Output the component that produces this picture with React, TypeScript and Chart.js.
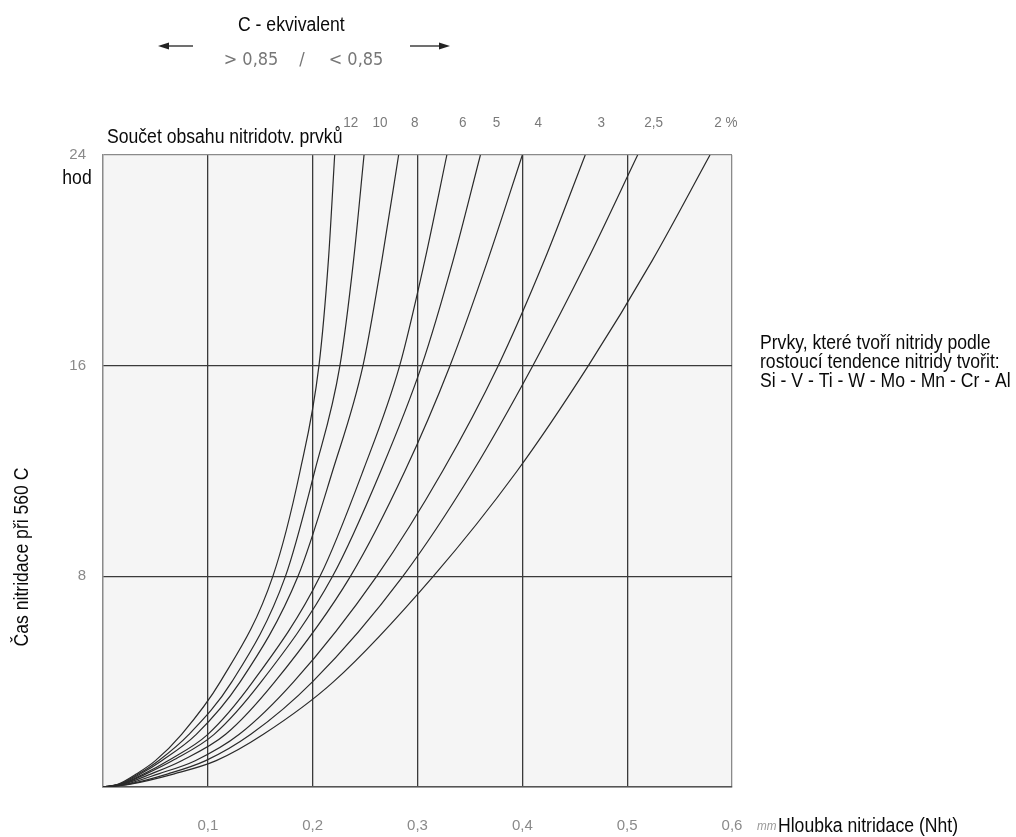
import React, { useEffect, useRef } from 'react';
import { Chart, registerables } from 'chart.js';
Chart.register(...registerables);

// Time of nitriding (hours) at which each depth was read
const hours = [0, 0.1, 0.5, 1, 2, 4, 8, 12, 16, 20, 24];

// Nitriding depth (mm) for each sum of nitride-forming elements
const depth12 = [0, 0.014, 0.032, 0.050, 0.075, 0.112, 0.162, 0.188, 0.206, 0.215, 0.221];
const depth10 = [0, 0.015, 0.034, 0.053, 0.082, 0.123, 0.174, 0.202, 0.226, 0.239, 0.249];
const depth8 = [0, 0.016, 0.036, 0.056, 0.089, 0.131, 0.186, 0.219, 0.248, 0.266, 0.282];
const depth6 = [0, 0.017, 0.039, 0.062, 0.100, 0.143, 0.207, 0.248, 0.283, 0.307, 0.328];
const depth5 = [0, 0.018, 0.041, 0.066, 0.106, 0.151, 0.219, 0.265, 0.304, 0.334, 0.360];
const depth4 = [0, 0.019, 0.046, 0.075, 0.117, 0.164, 0.236, 0.288, 0.331, 0.367, 0.400];
const depth3 = [0, 0.021, 0.053, 0.088, 0.130, 0.182, 0.261, 0.324, 0.377, 0.421, 0.460];
const depth25 = [0, 0.023, 0.062, 0.098, 0.141, 0.200, 0.286, 0.353, 0.410, 0.462, 0.510];
const depth2 = [0, 0.025, 0.068, 0.108, 0.153, 0.220, 0.315, 0.395, 0.463, 0.524, 0.579];

const seriesLabels = ['12', '10', '8', '6', '5', '4', '3', '2,5', '2 %'];
const seriesDepths = [depth12, depth10, depth8, depth6, depth5, depth4, depth3, depth25, depth2];

const xTicks = [0, 0.1, 0.2, 0.3, 0.4, 0.5, 0.6];
const yTicks = [0, 8, 16, 24];

const SANS = '"Liberation Sans", Arial, sans-serif';

function txt(
  ctx: CanvasRenderingContext2D,
  s: string,
  x: number,
  y: number,
  o: { size?: number; color?: string; align?: CanvasTextAlign; sx?: number; rot?: number; style?: string; family?: string }
) {
  ctx.save();
  ctx.translate(x, y);
  if (o.rot) ctx.rotate(o.rot);
  ctx.scale(o.sx ?? 0.88, 1);
  ctx.font = `${o.style ?? ''} ${o.size ?? 20}px ${o.family ?? SANS}`;
  ctx.fillStyle = o.color ?? '#0a0a0a';
  ctx.textAlign = o.align ?? 'left';
  ctx.textBaseline = 'middle';
  ctx.fillText(s, 0, 0);
  ctx.restore();
}

function arrow(ctx: CanvasRenderingContext2D, x1: number, x2: number, y: number) {
  const dir = Math.sign(x2 - x1);
  ctx.save();
  ctx.strokeStyle = '#222';
  ctx.fillStyle = '#222';
  ctx.lineWidth = 1.3;
  ctx.beginPath();
  ctx.moveTo(x1, y);
  ctx.lineTo(x2 - dir * 8, y);
  ctx.stroke();
  ctx.beginPath();
  ctx.moveTo(x2, y);
  ctx.lineTo(x2 - dir * 11, y - 3.5);
  ctx.lineTo(x2 - dir * 11, y + 3.5);
  ctx.closePath();
  ctx.fill();
  ctx.restore();
}

const decorPlugin = {
  id: 'decor',
  beforeDraw(chart: any) {
    const { ctx, chartArea: a } = chart;
    ctx.save();
    ctx.fillStyle = '#ffffff';
    ctx.fillRect(0, 0, chart.width, chart.height);
    ctx.fillStyle = '#f5f5f5';
    ctx.fillRect(a.left, a.top, a.right - a.left, a.bottom - a.top);
    ctx.restore();
  },
  afterDraw(chart: any) {
    const { ctx, chartArea: a } = chart;
    // top header
    txt(ctx, 'C - ekvivalent', 238, 25, {});
    arrow(ctx, 193, 158, 46);
    arrow(ctx, 410, 450, 46);
    const g = { size: 17, color: '#777', align: 'center' as CanvasTextAlign, sx: 0.95, family: '"DejaVu Sans", sans-serif' };
    txt(ctx, '> 0,85', 251, 61, g);
    txt(ctx, '/', 302, 61, g);
    txt(ctx, '< 0,85', 356, 61, g);
    txt(ctx, 'Součet obsahu nitridotv. prvků', a.left + 4, 137, {});
    // curve labels
    chart.data.datasets.forEach((ds: any, i: number) => {
      const meta = chart.getDatasetMeta(i);
      const last = meta.data[meta.data.length - 1];
      txt(ctx, ds.label, last.x + 16, 123, { size: 15, color: '#7a7a7a', align: 'center', sx: 0.9 });
    });
    // y unit
    txt(ctx, 'hod', 77, 178, { align: 'center' });
    // y title
    txt(ctx, 'Čas nitridace při 560 C', 22, 557, { align: 'center', rot: -Math.PI / 2 });
    // x title
    txt(ctx, 'mm', 757, 826, { size: 13, color: '#999', style: 'italic', sx: 0.9 });
    txt(ctx, 'Hloubka nitridace (Nht)', 778, 826, {});
    // right note
    txt(ctx, 'Prvky, které tvoří nitridy podle', 760, 343, {});
    txt(ctx, 'rostoucí tendence nitridy tvořit:', 760, 362, {});
    txt(ctx, 'Si - V - Ti - W - Mo - Mn - Cr - Al', 760, 381, {});
  },
};

export default function App() {
  const ref = useRef<HTMLCanvasElement>(null);
  useEffect(() => {
    const datasets = seriesDepths.map((d, i) => ({
      label: seriesLabels[i],
      data: d.map((x, k) => ({ x, y: hours[k] })),
      borderColor: '#2a2a2a',
      borderWidth: 1.2,
      pointRadius: 0,
      fill: false,
      cubicInterpolationMode: 'monotone' as const,
    }));
    const chart = new Chart(ref.current!, {
      type: 'line',
      data: { datasets },
      plugins: [decorPlugin],
      options: {
        responsive: false,
        animation: false,
        devicePixelRatio: 1,
        events: [],
        layout: { padding: { left: 0, top: 155, right: 284, bottom: 0 } },
        plugins: { legend: { display: false }, tooltip: { enabled: false } },
        scales: {
          x: {
            type: 'linear',
            min: 0,
            max: 0.6,
            afterFit: (s: any) => {
              s.height = 50;
            },
            afterBuildTicks: (s: any) => {
              s.ticks = xTicks.map((v) => ({ value: v }));
            },
            ticks: {
              padding: 30,
              color: '#8a8a8a',
              font: { family: 'Liberation Sans', size: 15 },
              callback: (v: any) => (Number(v) < 1e-9 ? '' : Number(v).toFixed(1).replace('.', ',')),
              maxRotation: 0,
            },
            grid: {
              drawTicks: false,
              lineWidth: 1.3,
              color: (c: any) => (c.tick && (c.tick.value < 1e-9 || c.tick.value > 0.599) ? '#8a8a8a' : '#3a3a3a'),
            },
            border: { display: true, color: '#555', width: 1.6 },
          },
          y: {
            type: 'linear',
            min: 0,
            max: 24,
            afterFit: (s: any) => {
              s.width = 103;
            },
            afterBuildTicks: (s: any) => {
              s.ticks = yTicks.map((v) => ({ value: v }));
            },
            ticks: {
              padding: 17,
              color: '#8a8a8a',
              font: { family: 'Liberation Sans', size: 15 },
              callback: (v: any) => (Number(v) === 0 ? '' : String(v)),
            },
            grid: {
              drawTicks: false,
              lineWidth: 1.3,
              color: (c: any) => (c.tick && (c.tick.value === 0 || c.tick.value === 24) ? '#8a8a8a' : '#3a3a3a'),
            },
            border: { display: true, color: '#8a8a8a', width: 1.3 },
          },
        },
      },
    });
    return () => chart.destroy();
  }, []);
  return (
    <div style={{ position: 'fixed', left: 0, top: 0, width: 1016, height: 837, background: '#fff' }}>
      <canvas ref={ref} width={1016} height={837} style={{ display: 'block', width: 1016, height: 837 }} />
    </div>
  );
}
